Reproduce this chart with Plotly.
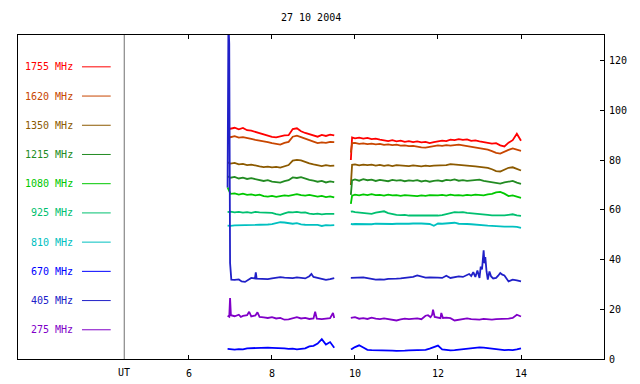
import plotly.graph_objects as go

# ---- time grids (UT hours) ----
T_L = [6.93, 7.0, 7.1, 7.2, 7.3, 7.4, 7.5, 7.6, 7.7, 7.8, 7.9, 8.0, 8.1, 8.2, 8.3, 8.4,
       8.5, 8.6, 8.7, 8.8, 8.9, 9.0, 9.1, 9.2, 9.3, 9.4, 9.5]
T_R = [9.9, 9.93, 10.0, 10.1, 10.2, 10.3, 10.4, 10.5, 10.6, 10.7, 10.8, 10.9,
       11.0, 11.1, 11.2, 11.3, 11.4, 11.5, 11.6, 11.7, 11.8, 11.9,
       12.0, 12.1, 12.2, 12.3, 12.4, 12.5, 12.6, 12.7, 12.8, 12.9,
       13.0, 13.1, 13.2, 13.3, 13.4, 13.5, 13.6, 13.7, 13.8, 13.9, 14.0]

# ---- series values ----
F1755_L = [93.2, 92.6, 93.0, 92.4, 92.9, 92.0, 91.8, 91.3, 90.9, 90.2, 89.9, 89.3, 89.1, 89.6,
           89.9, 90.0, 92.5, 92.8, 91.6, 90.9, 90.4, 89.8, 89.4, 90.1, 89.7, 90.2, 89.9]
F1755_R = [80.0, 89.1, 88.7, 89.0, 88.6, 88.9, 88.4, 88.6, 88.2, 88.0, 87.6, 88.0, 87.5, 87.8,
           87.3, 87.6, 87.2, 87.5, 87.1, 87.3, 86.8, 87.2, 87.6, 87.8, 87.6, 88.2, 88.0, 88.4,
           88.1, 88.3, 87.7, 87.9, 87.5, 87.2, 87.0, 86.6, 86.8, 85.9, 85.5, 87.0, 88.0, 90.6, 87.8]

F1620_L = [89.5, 89.2, 89.6, 89.0, 89.2, 88.7, 88.5, 88.1, 87.9, 87.4, 87.2, 86.8, 86.6, 86.2,
           86.9, 87.3, 89.4, 89.8, 89.2, 88.5, 88.0, 87.4, 86.8, 87.1, 86.9, 87.3, 87.2]
F1620_R = [83.0, 86.8, 86.9, 86.5, 86.7, 86.4, 86.6, 86.3, 86.5, 86.1, 86.3, 86.0, 86.2, 85.8,
           85.9, 85.6, 85.7, 85.3, 85.1, 85.0, 85.4, 85.7, 85.9, 85.7, 86.0, 85.8, 86.1, 86.2,
           85.9, 85.6, 85.3, 85.1, 84.8, 84.6, 84.2, 83.6, 82.9, 82.6, 83.5, 84.1, 84.7, 84.3, 83.7]

F1350_L = [79.1, 78.6, 78.9, 78.3, 78.5, 78.0, 78.2, 77.7, 77.5, 77.2, 77.4, 77.1, 77.3, 77.0,
           77.6, 78.0, 79.8, 80.1, 79.9, 79.2, 78.7, 78.3, 77.9, 77.6, 78.0, 77.7, 77.8]
F1350_R = [70.0, 78.1, 78.3, 77.9, 78.2, 78.0, 78.2, 77.8, 78.1, 77.7, 78.0, 77.6, 78.0, 77.8,
           77.9, 77.6, 77.9, 77.7, 77.5, 77.8, 77.6, 77.8, 77.9, 78.1, 78.0, 78.4, 78.3, 78.1,
           77.9, 77.7, 77.8, 77.5, 77.3, 77.2, 76.9, 76.3, 75.6, 75.4, 76.2, 76.9, 77.1, 76.5, 75.8]

F1215_L = [73.5, 72.9, 73.2, 72.6, 72.9, 72.4, 72.7, 72.3, 72.0, 71.6, 71.9, 71.3, 71.1, 70.9,
           71.5, 71.9, 73.0, 72.8, 73.1, 72.4, 72.0, 71.7, 71.3, 71.6, 71.0, 71.4, 71.1]
F1215_R = [66.0, 71.8, 72.2, 71.7, 72.3, 71.9, 72.1, 71.6, 72.0, 71.8, 71.5, 72.0, 71.7, 71.9,
           71.5, 71.8, 71.6, 71.9, 71.4, 71.7, 71.3, 71.6, 71.8, 71.5, 72.0, 71.8, 72.2, 71.7,
           71.9, 71.6, 71.8, 71.9, 72.1, 71.6, 71.3, 70.9, 70.6, 70.5, 71.0, 71.4, 71.6, 70.9, 70.4]

F1080_L = [69.0, 66.4, 66.6, 66.1, 66.5, 66.0, 66.2, 65.8, 66.1, 65.5, 65.3, 65.6, 65.2, 65.5,
           65.8, 65.6, 66.1, 66.3, 65.9, 65.7, 66.0, 65.5, 65.3, 65.6, 65.1, 65.4, 65.0]
F1080_R = [62.4, 65.7, 66.1, 65.8, 66.2, 65.9, 66.3, 65.9, 66.0, 65.7, 66.1, 65.8, 65.9, 65.6,
           65.9, 65.7, 65.8, 65.5, 65.8, 65.6, 65.9, 65.7, 65.8, 66.0, 65.7, 66.1, 65.8, 65.9,
           65.7, 66.0, 65.8, 66.1, 66.0, 65.8, 66.2, 66.4, 67.0, 67.2, 66.5, 65.5, 65.8, 65.2, 64.8]

F925_L = [59.1, 59.3, 59.0, 59.2, 58.9, 59.1, 58.8, 59.2, 59.0, 58.9, 58.7, 58.8, 58.3, 58.0,
          58.6, 59.1, 59.0, 59.2, 58.9, 59.0, 58.5, 58.3, 58.5, 58.2, 58.4, 58.3, 58.4]
F925_R = [59.3, 59.4, 59.1, 59.0, 58.7, 58.5, 58.4, 58.9, 59.2, 59.4, 58.7, 58.3, 58.0, 57.9,
          58.0, 57.7, 57.8, 57.6, 57.8, 57.7, 57.6, 57.8, 57.7, 57.9, 58.2, 58.7, 59.1, 59.0,
          59.1, 58.8, 58.7, 58.6, 58.4, 58.2, 58.0, 57.8, 57.7, 57.6, 57.8, 58.0, 58.2, 57.8, 57.6]

F810_L = [53.6, 53.5, 53.7, 53.8, 53.7, 53.9, 53.8, 53.9, 54.0, 53.9, 54.1, 54.2, 54.6, 55.0,
          54.9, 54.5, 54.4, 54.6, 54.1, 54.0, 53.9, 53.8, 53.9, 53.5, 53.8, 53.7, 53.8]
F810_R = [54.3, 54.2, 54.3, 54.2, 54.4, 54.3, 54.2, 54.4, 54.3, 54.4, 54.2, 54.3, 54.4, 54.3,
          54.5, 54.4, 54.5, 54.6, 54.5, 54.4, 54.3, 53.6, 54.5, 54.4, 54.6, 54.5, 54.8, 54.4,
          54.5, 54.3, 54.2, 54.0, 53.8, 53.7, 53.6, 53.5, 53.3, 53.3, 53.2, 53.3, 53.2, 53.1, 52.7]

F670_L = [4.1, 4.0, 3.8, 4.0, 3.9, 4.3, 4.4, 4.3, 4.5, 4.4, 4.6, 4.5, 4.5, 4.6, 4.3, 4.1, 4.2,
          3.9, 4.0, 4.3, 5.1, 5.3, 6.2, 8.0, 5.8, 6.8, 4.5]
F670_R = [4.0, 4.1, 4.8, 5.5, 4.6, 3.7, 3.6, 3.5, 3.6, 3.4, 3.3, 3.4, 3.3, 3.5, 3.4, 3.5, 3.5,
          3.6, 3.5, 3.7, 4.2, 4.8, 5.4, 3.9, 3.6, 3.5, 3.6, 3.8, 4.0, 4.1, 4.3, 4.5, 4.7, 4.6,
          4.4, 4.1, 3.9, 3.7, 3.6, 3.7, 3.6, 3.9, 4.3]

F405_L_T = [6.93, 6.95, 6.97, 6.99, 7.02, 7.1, 7.2, 7.27, 7.35, 7.4, 7.5, 7.59, 7.61, 7.63, 7.7,
            7.8, 7.9, 8.0, 8.1, 8.2, 8.3, 8.4, 8.5, 8.6, 8.7, 8.8, 8.9, 8.95, 9.0, 9.1, 9.2,
            9.3, 9.4, 9.5]
F405_L = [69.0, 135.0, 127.0, 38.6, 31.9, 31.8, 32.0, 31.2, 31.0, 31.5, 32.6, 32.4, 34.8, 32.3,
          32.2, 32.3, 32.1, 32.4, 32.8, 32.9, 32.7, 32.6, 32.5, 32.8, 32.6, 32.4, 33.3, 34.2,
          33.0, 32.5, 32.0, 31.8, 32.1, 32.5]
F405_R_T = [9.9, 10.0, 10.1, 10.2, 10.3, 10.4, 10.5, 10.6, 10.7, 10.8, 10.9, 11.0, 11.1, 11.2,
            11.3, 11.4, 11.5, 11.6, 11.7, 11.8, 11.9, 12.0, 12.1, 12.2, 12.3, 12.4, 12.5, 12.6,
            12.7, 12.75, 12.8, 12.85, 12.9, 12.95, 13.0, 13.03, 13.06, 13.08, 13.1, 13.12,
            13.14, 13.17, 13.2, 13.24, 13.28, 13.33, 13.4, 13.45, 13.5, 13.55, 13.6, 13.7,
            13.8, 13.9, 14.0]
F405_R = [32.6, 32.7, 32.6, 32.8, 32.5, 32.2, 31.9, 32.0, 31.9, 32.2, 32.1, 32.3, 32.4, 32.6,
          32.8, 33.0, 33.6, 33.0, 32.7, 32.8, 32.6, 32.7, 32.6, 33.5, 32.6, 33.0, 33.2, 33.0,
          33.6, 34.2, 33.4, 34.9, 33.0, 35.6, 32.6, 37.2, 36.0, 42.6, 43.7, 38.5, 41.0, 35.2,
          31.9, 35.2, 33.2, 32.4, 32.6, 33.5, 34.6, 33.9, 33.6, 31.2, 31.9, 31.6, 31.2]

F275_L_T = [6.93, 6.97, 6.99, 7.01, 7.1, 7.2, 7.25, 7.3, 7.4, 7.45, 7.5, 7.6, 7.65, 7.7, 7.8,
            7.9, 8.0, 8.1, 8.2, 8.3, 8.4, 8.5, 8.6, 8.7, 8.8, 8.9, 9.0, 9.04, 9.08, 9.2, 9.3,
            9.4, 9.47, 9.5]
F275_L = [17.4, 17.0, 24.5, 17.6, 17.2, 17.8, 16.9, 17.3, 17.6, 19.0, 17.1, 17.5, 18.8, 16.9,
          16.7, 16.5, 16.8, 16.3, 16.5, 15.8, 15.9, 16.2, 16.8, 16.3, 16.5, 16.1, 16.3, 19.0,
          16.2, 16.0, 16.1, 16.4, 18.5, 16.5]
F275_R_T = [9.9, 10.0, 10.1, 10.2, 10.3, 10.4, 10.5, 10.6, 10.7, 10.8, 10.9, 11.0, 11.1, 11.2,
            11.3, 11.4, 11.5, 11.6, 11.7, 11.76, 11.82, 11.86, 11.88, 11.92, 12.0, 12.06, 12.08,
            12.12, 12.2, 12.3, 12.4, 12.5, 12.6, 12.7, 12.8, 12.9, 13.0, 13.1, 13.2, 13.3, 13.4,
            13.5, 13.6, 13.7, 13.8, 13.9, 14.0]
F275_R = [16.5, 16.8, 16.2, 16.4, 16.1, 16.6, 16.2, 16.0, 16.3, 16.1, 15.7, 15.5, 15.9, 16.2,
          16.0, 16.1, 16.3, 16.0, 17.4, 17.6, 16.8, 17.8, 19.8, 16.9, 16.5, 16.4, 18.5, 16.5,
          16.6, 16.4, 15.5, 15.7, 16.1, 16.3, 16.0, 15.9, 15.8, 16.1, 15.9, 15.8, 16.0, 16.1,
          16.0, 16.2, 16.5, 17.8, 17.1]

LABELS = ["1755 MHz", "1620 MHz", "1350 MHz", "1215 MHz", "1080 MHz",
          "925 MHz", "810 MHz", "670 MHz", "405 MHz", "275 MHz"]
COLORS = ["#ff0000", "#c84600", "#8c5a00", "#228b22", "#00c800",
          "#00c070", "#00c0c0", "#0000ff", "#2020c8", "#8000c8"]
X_TICKS = [6, 8, 10, 12, 14]
Y_TICKS = [0, 20, 40, 60, 80, 100, 120]
TITLE = "27 10 2004"

SERIES = [
    (T_L, F1755_L, T_R, F1755_R),
    (T_L, F1620_L, T_R, F1620_R),
    (T_L, F1350_L, T_R, F1350_R),
    (T_L, F1215_L, T_R, F1215_R),
    (T_L, F1080_L, T_R, F1080_R),
    (T_L, F925_L, T_R, F925_R),
    (T_L, F810_L, T_R, F810_R),
    (T_L, F670_L, T_R, F670_R),
    (F405_L_T, F405_L, F405_R_T, F405_R),
    (F275_L_T, F275_L, F275_R_T, F275_R),
]

FONT = "DejaVu Sans Mono"
fig = go.Figure()
for (tl, vl, tr, vr), lab, col in zip(SERIES, LABELS, COLORS):
    fig.add_trace(go.Scatter(
        x=list(tl) + [None] + list(tr), y=list(vl) + [None] + list(vr),
        mode="lines", line=dict(color=col, width=1.8), name=lab,
        connectgaps=False, showlegend=False, hoverinfo="skip"))

annotations = []
shapes = []
for i, (lab, col) in enumerate(zip(LABELS, COLORS)):
    ly = 117.5 - i * 11.75
    annotations.append(dict(text=lab, xref="paper", yref="y", x=0.0973, y=ly,
                            xanchor="right", yanchor="middle", showarrow=False,
                            font=dict(family=FONT, size=10, color=col)))
    shapes.append(dict(type="line", xref="paper", yref="y", x0=0.1092, x1=0.1582,
                       y0=ly, y1=ly, line=dict(color=col, width=1)))

shapes.append(dict(type="line", xref="x", yref="paper", x0=4.44, x1=4.44, y0=0, y1=1,
                   line=dict(color="#707070", width=1)))
annotations.append(dict(text="UT", xref="x", yref="paper", x=4.44, y=-0.043,
                        xanchor="center", yanchor="middle", showarrow=False,
                        font=dict(family=FONT, size=10, color="black")))
annotations.append(dict(text=TITLE, xref="paper", yref="paper", x=0.5, y=1.0555,
                        xanchor="center", yanchor="middle", showarrow=False,
                        font=dict(family=FONT, size=10, color="black")))

# page body adds an 8px offset, so the figure is sized to fit the 640x384 window
fig.update_layout(
    width=632, height=376,
    margin=dict(l=10, r=36, t=27, b=25, pad=0, autoexpand=False),
    plot_bgcolor="white", paper_bgcolor="white",
    font=dict(family=FONT, size=10, color="black"),
    annotations=annotations, shapes=shapes,
    xaxis=dict(range=[1.88, 16.0], tickvals=X_TICKS, ticks="inside", ticklen=4,
               tickcolor="black", showline=True, linecolor="black", linewidth=1,
               mirror="allticks", showgrid=False, zeroline=False, automargin=False,
               ticklabelstandoff=5,
               tickfont=dict(family=FONT, size=10, color="black")),
    yaxis=dict(range=[0, 130.3], tickvals=Y_TICKS, side="right", ticks="inside",
               ticklen=4, tickcolor="black", showline=True, linecolor="black",
               linewidth=1, mirror=True, showgrid=False, zeroline=False, automargin=False,
               ticklabelstandoff=2,
               tickfont=dict(family=FONT, size=10, color="black")),
)

fig.write_html("out.html")
